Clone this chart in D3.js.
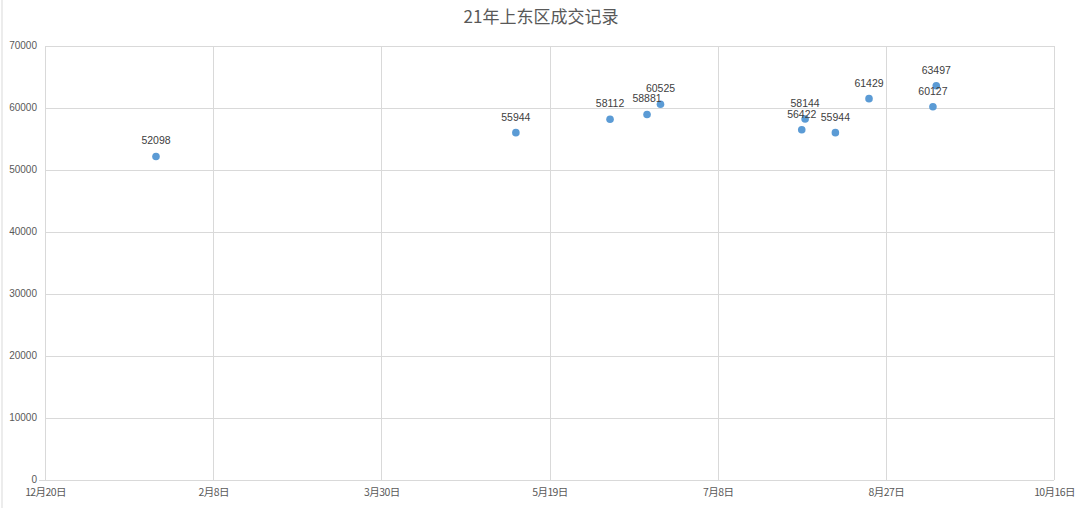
<!DOCTYPE html>
<html lang="zh">
<head>
<meta charset="utf-8">
<title>21年上东区成交记录</title>
<script src="https://cdn.jsdelivr.net/npm/d3@7"></script>
<style>
  body { margin: 0; background: #fff; }
  .axis text { font-family: "Liberation Sans", Arial, sans-serif; font-size: 10px; fill: #595959; }
  .xaxis text { font-family: "Noto Sans CJK SC", sans-serif; font-size: 10.5px; letter-spacing: -0.6px; }
  .grid line { stroke: #d9d9d9; shape-rendering: crispEdges; }
</style>
</head>
<body>
<script>
// deal dates and unit prices
var dealDates = ["2021-01-22", "2021-05-09", "2021-06-06", "2021-06-17", "2021-06-21",
                 "2021-08-02", "2021-08-03", "2021-08-12", "2021-08-22", "2021-09-10", "2021-09-11"];
var dealPrices = [52098, 55944, 58112, 58881, 60525, 56422, 58144, 55944, 61429, 60127, 63497];

var xTickDates = ["2020-12-20", "2021-02-08", "2021-03-30", "2021-05-19", "2021-07-08", "2021-08-27", "2021-10-16"];
var yTickValues = [0, 10000, 20000, 30000, 40000, 50000, 60000, 70000];

var w = 1080, h = 508;
var padL = 45, padR = 1054, padT = 45.5, padB = 479.5;

var parse = d3.timeParse("%Y-%m-%d");
var data = dealDates.map(function(d, i) { return { date: parse(d), price: dealPrices[i] }; });

var svg = d3.select("body").append("svg")
  .attr("width", w)
  .attr("height", h);

// frame edge on the left
svg.append("line")
  .attr("x1", 2).attr("x2", 2).attr("y1", 0).attr("y2", h)
  .attr("stroke", "#d9d9d9");

var xScale = d3.scaleTime()
  .domain([parse(xTickDates[0]), parse(xTickDates[xTickDates.length - 1])])
  .range([padL, padR]);

var yScale = d3.scaleLinear()
  .domain([0, 70000])
  .range([padB, padT]);

// gridlines
var grid = svg.append("g").attr("class", "grid");

grid.selectAll("line.h")
  .data(yTickValues)
  .enter().append("line")
  .attr("class", "h")
  .attr("x1", function(d) { return d === 0 ? padL - 6 : padL; })
  .attr("x2", padR)
  .attr("y1", function(d) { return Math.round(yScale(d)) + 0.5; })
  .attr("y2", function(d) { return Math.round(yScale(d)) + 0.5; });

grid.selectAll("line.v")
  .data(xTickDates)
  .enter().append("line")
  .attr("class", "v")
  .attr("x1", function(d) { return Math.round(xScale(parse(d))) + 0.5; })
  .attr("x2", function(d) { return Math.round(xScale(parse(d))) + 0.5; })
  .attr("y1", padT)
  .attr("y2", padB);

var yAxis = d3.axisLeft(yScale)
  .tickValues(yTickValues)
  .tickSize(0)
  .tickPadding(8)
  .tickFormat(d3.format("d"));

svg.append("g")
  .attr("class", "axis")
  .attr("transform", "translate(" + padL + ",0)")
  .call(yAxis)
  .call(function(g) { g.select(".domain").remove(); });

var fmt = d3.timeFormat("%-m月%-d日");
var xAxis = d3.axisBottom(xScale)
  .tickValues(xTickDates.map(parse))
  .tickSize(0)
  .tickPadding(9)
  .tickFormat(fmt);

svg.append("g")
  .attr("class", "axis xaxis")
  .attr("transform", "translate(0," + padB + ")")
  .call(xAxis)
  .call(function(g) { g.select(".domain").remove(); });

// points
svg.selectAll("circle")
  .data(data)
  .enter().append("circle")
  .attr("cx", function(d) { return xScale(d.date); })
  .attr("cy", function(d) { return yScale(d.price); })
  .attr("r", 3.8)
  .attr("fill", "#5b9bd5");

// data labels
svg.selectAll("text.lbl")
  .data(data)
  .enter().append("text")
  .attr("class", "lbl")
  .attr("x", function(d) { return xScale(d.date); })
  .attr("y", function(d) { return yScale(d.price) - 12; })
  .attr("text-anchor", "middle")
  .attr("font-family", "Liberation Sans, Arial, sans-serif")
  .attr("font-size", "10.5px")
  .attr("fill", "#404040")
  .text(function(d) { return d.price; });

// title
svg.append("text")
  .attr("x", 541)
  .attr("y", 23)
  .attr("text-anchor", "middle")
  .attr("font-family", "Noto Sans CJK SC, sans-serif")
  .attr("font-size", "17px")
  .attr("fill", "#595959")
  .text("21年上东区成交记录");
</script>
</body>
</html>
